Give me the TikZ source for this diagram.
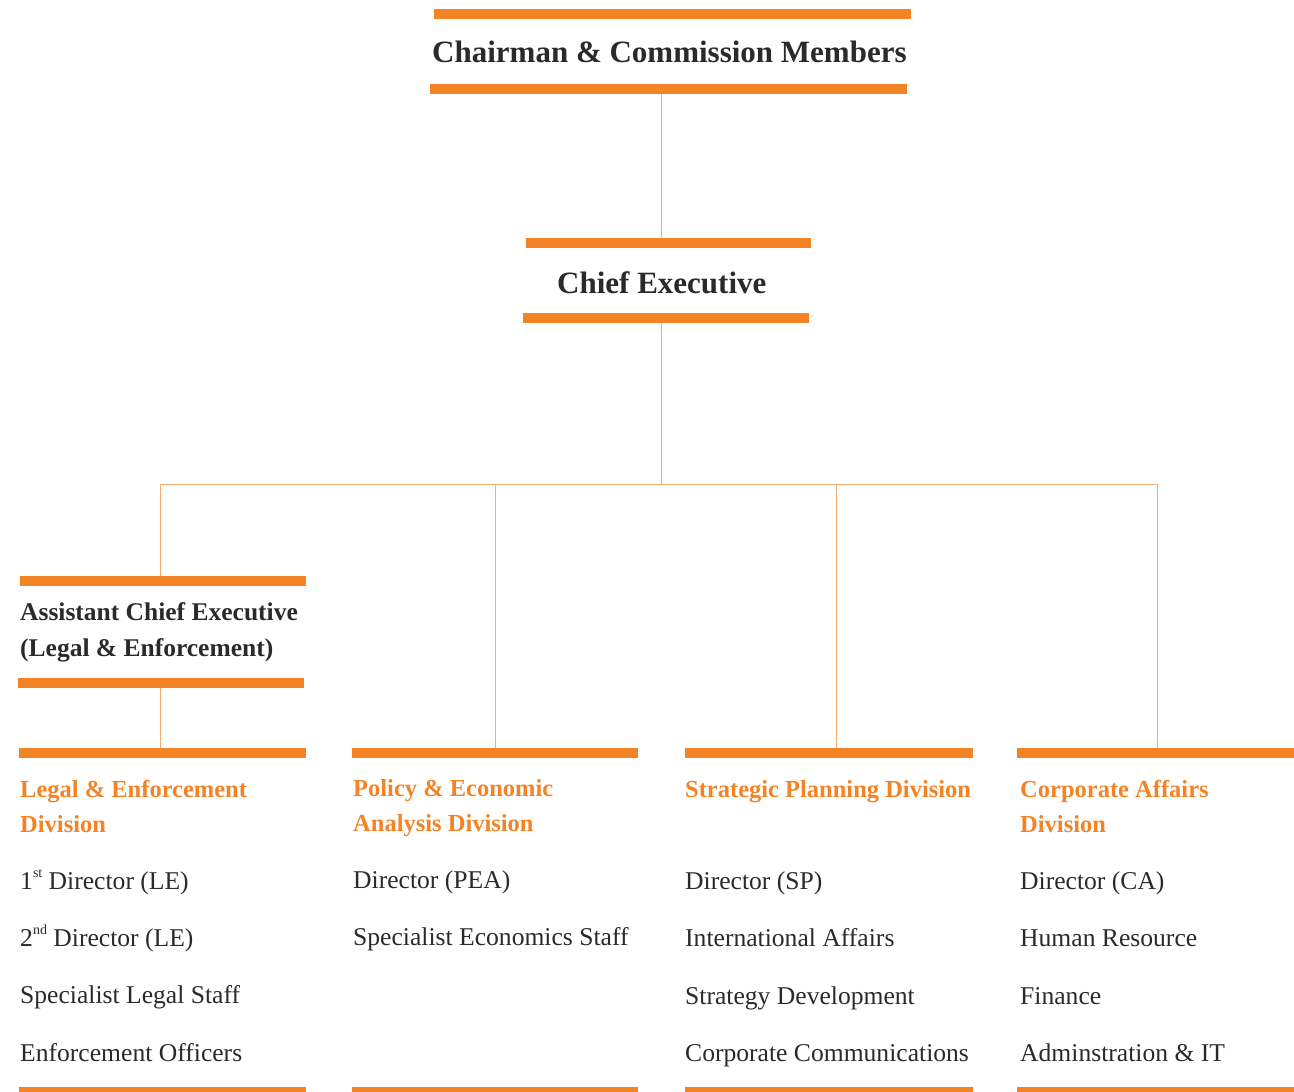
\documentclass[tikz,border=0pt]{standalone}
\usepackage{fontspec}
\setmainfont{Liberation Serif}
\definecolor{bar}{HTML}{F48326}
\definecolor{thin}{HTML}{F7AC72}
\definecolor{ink}{HTML}{2A2A2A}
\definecolor{div}{HTML}{F48326}
\newcommand{\supx}[1]{\raisebox{0.45em}{\fontsize{14}{14}\selectfont #1}}
\begin{document}
\begin{tikzpicture}[x=1pt,y=-1pt,
  barnode/.style={fill=bar,draw=none,inner sep=0pt,minimum height=10pt,anchor=north west},
  conn/.style={draw=thin,line width=1pt},
  head/.style={anchor=base west,inner sep=0pt,text=ink,font=\fontsize{31}{36}\selectfont\bfseries},
  ace/.style={anchor=base west,inner sep=0pt,text=ink,align=left,font=\fontsize{25.5}{36}\selectfont\bfseries},
  divtitle/.style={anchor=base west,inner sep=0pt,text=div,align=left,font=\fontsize{24.5}{35}\selectfont\bfseries},
  item/.style={anchor=base west,inner sep=0pt,text=ink,font=\fontsize{25.6}{28}\selectfont}]
\useasboundingbox (0,0) rectangle (1294,1092);
% top
\node[barnode,minimum width=477pt] (chb1) at (434,9) {};
\node[head] (chairman) at (432,62) {Chairman \& Commission Members};
\node[barnode,minimum width=477pt] (chb2) at (430,84) {};
% chief executive
\node[barnode,minimum width=285pt] (ceb1) at (526,238) {};
\node[head] (ce) at (557,293) {Chief Executive};
\node[barnode,minimum width=286pt] (ceb2) at (523,313) {};
% ACE
\node[barnode,minimum width=286pt] (aceb1) at (20,576) {};
\node[ace] (ace) at (20,656) {Assistant Chief Executive\\(Legal \& Enforcement)};
\node[barnode,minimum width=286pt] (aceb2) at (18,678) {};
% division top bars
\node[barnode,minimum width=287pt] (d1) at (19,748) {};
\node[barnode,minimum width=286pt] (d2) at (352,748) {};
\node[barnode,minimum width=288pt] (d3) at (685,748) {};
\node[barnode,minimum width=277pt] (d4) at (1017,748) {};
% division bottom bars
\node[barnode,minimum width=287pt] (e1) at (19,1087) {};
\node[barnode,minimum width=286pt] (e2) at (352,1087) {};
\node[barnode,minimum width=288pt] (e3) at (685,1087) {};
\node[barnode,minimum width=277pt] (e4) at (1017,1087) {};
% junctions
\coordinate (j0) at (661,484);
\coordinate (jL) at (160,484);
\coordinate (j2) at (495,484);
\coordinate (j3) at (836,484);
\coordinate (jR) at (1157,484);
\draw[conn] (chb2.south -| j0) -- (ceb1.north -| j0);
\draw[conn] (ceb2.south -| j0) -- (j0);
\draw[conn] (jL) -- (jR);
\draw[conn] (jL) -- (aceb1.north -| jL);
\draw[conn] (aceb2.south -| jL) -- (d1.north -| jL);
\draw[conn] (j2) -- (d2.north -| j2);
\draw[conn] (j3) -- (d3.north -| j3);
\draw[conn] (jR) -- (d4.north -| jR);
% column 1
\node[divtitle] (t1) at (20,832) {Legal \& Enforcement\\Division};
\node[item] (a1) at (20,889) {1\supx{st} Director (LE)};
\node[item] (a2) at (20,946) {2\supx{nd} Director (LE)};
\node[item] (a3) at (20,1003) {Specialist Legal Staff};
\node[item] (a4) at (20,1061) {Enforcement Officers};
% column 2
\node[divtitle] (t2) at (353,831) {Policy \& Economic\\Analysis Division};
\node[item] (b1) at (353,888) {Director (PEA)};
\node[item] (b2) at (353,945) {Specialist Economics Staff};
% column 3
\node[divtitle] (t3) at (685,797) {Strategic Planning Division};
\node[item] (c1) at (685,889) {Director (SP)};
\node[item] (c2) at (685,946) {International Affairs};
\node[item] (c3) at (685,1004) {Strategy Development};
\node[item] (c4) at (685,1061) {Corporate Communications};
% column 4
\node[divtitle] (t4) at (1020,832) {Corporate Affairs\\Division};
\node[item] (f1) at (1020,889) {Director (CA)};
\node[item] (f2) at (1020,946) {Human Resource};
\node[item] (f3) at (1020,1004) {Finance};
\node[item] (f4) at (1020,1061) {Adminstration \& IT};
\end{tikzpicture}
\end{document}
